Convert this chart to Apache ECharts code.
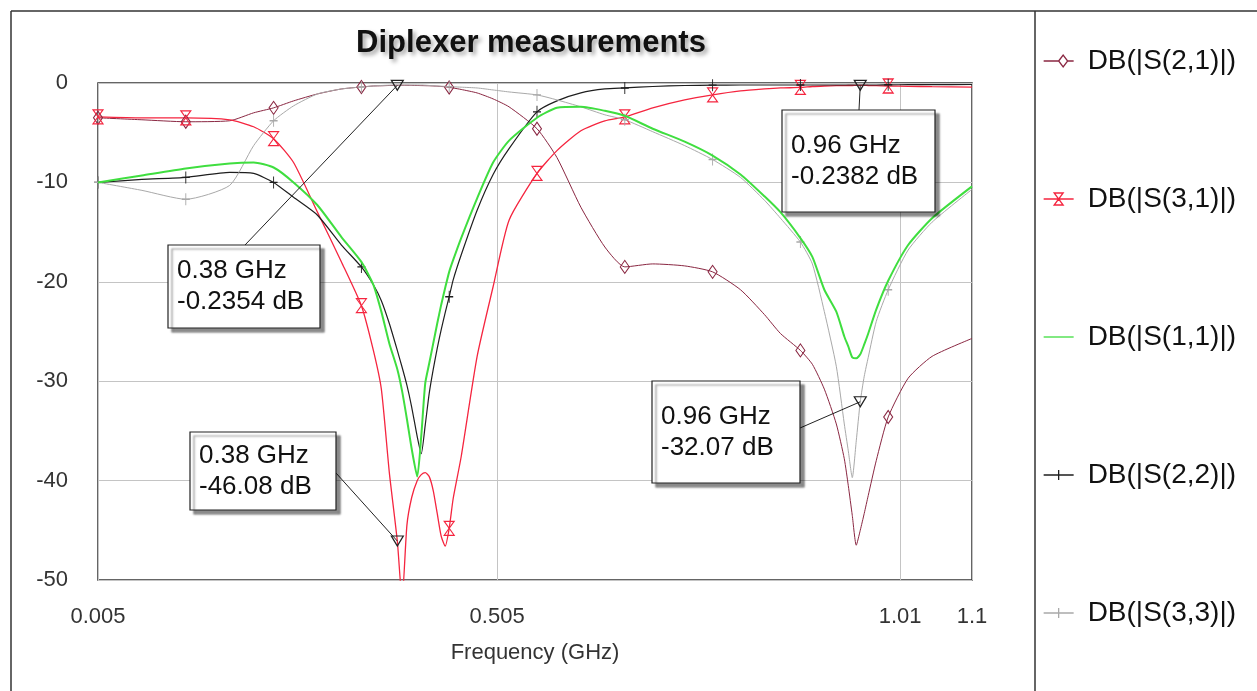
<!DOCTYPE html>
<html>
<head>
<meta charset="utf-8">
<title>Diplexer measurements</title>
<script src="https://cdn.jsdelivr.net/npm/echarts@6/dist/echarts.min.js"></script>
<style>
html,body{margin:0;padding:0;background:#fff;}
#main{width:1257px;height:691px;}
</style>
</head>
<body>
<div id="main"></div>
<script>
// frequency points (GHz) shared by all traces
var freq = [0.005, 0.06, 0.115, 0.17, 0.2, 0.225, 0.25, 0.28, 0.31, 0.335,
    0.35, 0.36, 0.37, 0.38, 0.386, 0.392, 0.398, 0.405, 0.41, 0.415,
    0.42, 0.425, 0.43, 0.435, 0.44, 0.445, 0.45, 0.46, 0.48, 0.5,
    0.52, 0.555, 0.58, 0.61, 0.64, 0.665, 0.7, 0.74, 0.775, 0.81,
    0.84, 0.86, 0.885, 0.9, 0.915, 0.93, 0.94, 0.945, 0.95, 0.955,
    0.96, 0.965, 0.97, 0.98, 0.995, 1.02, 1.05, 1.1];

// dB values
var s21 = [-3.5, -3.7, -3.9, -3.8, -3.0, -2.5, -1.8, -1.1, -0.6, -0.4,
    -0.3, -0.28, -0.25, -0.2354, -0.23, -0.23, -0.24, -0.25, -0.26, -0.27,
    -0.28, -0.3, -0.32, -0.35, -0.38, -0.45, -0.5, -0.65, -1.0, -1.6,
    -2.4, -4.6, -7.5, -12.5, -16.5, -18.5, -18.2, -18.4, -19.0, -20.8,
    -23.3, -25.2, -26.9, -28.3, -30.8, -34.3, -37.8, -40.5, -43.5, -46.5,
    -45.0, -43.3, -41.5, -38.0, -33.6, -29.7, -27.5, -25.7];
var s31 = [-3.4, -3.5, -3.5, -3.7, -4.4, -5.6, -8.0, -13.0, -18.0, -22.4,
    -26.9, -30.8, -39.2, -46.08, -52, -44.5, -41.7, -40.0, -39.4, -39.2,
    -39.6, -41.0, -43.3, -45.6, -46.6, -44.8, -41.8, -37.6, -27.5, -20.5,
    -13.8, -9.1, -6.8, -4.8, -3.8, -3.4, -2.5, -1.7, -1.2, -0.8,
    -0.6, -0.5, -0.45, -0.35, -0.3, -0.27, -0.26, -0.25, -0.25, -0.245,
    -0.2382, -0.24, -0.25, -0.27, -0.3, -0.33, -0.37, -0.42];
var s11 = [-10.0, -9.3, -8.6, -8.1, -8.0, -8.5, -10.0, -12.3, -15.5, -18.0,
    -20.3, -23.0, -26.2, -28.8, -31.0, -33.8, -36.8, -39.6, -35.5, -30.2,
    -28.2, -26.2, -24.2, -22.3, -20.6, -19.0, -17.8, -15.6, -11.6, -8.0,
    -5.8, -3.5, -2.5, -2.4, -2.8, -3.3, -4.6, -5.9, -7.3, -9.2,
    -11.4, -13.0, -15.6, -17.5, -20.8, -23.0, -25.5, -26.5, -27.6, -27.7,
    -27.3, -26.3, -25.2, -22.8, -19.9, -16.3, -13.6, -10.4];
var s22 = [-10.0, -9.7, -9.5, -9.0, -9.1, -10.0, -11.5, -13.3, -16.3, -18.5,
    -20.3, -21.9, -24.2, -26.9, -28.6, -30.4, -32.6, -35.6, -37.3, -34.4,
    -31.2, -28.8, -26.7, -24.8, -23.1, -21.5, -19.8, -17.3, -12.8, -9.2,
    -6.6, -2.9, -1.8, -1.0, -0.6, -0.5, -0.35, -0.25, -0.22, -0.2,
    -0.2, -0.2, -0.2, -0.2, -0.2, -0.2, -0.2, -0.2, -0.2, -0.2,
    -0.2, -0.2, -0.2, -0.2, -0.18, -0.17, -0.16, -0.15];
var s33 = [-10.0, -10.8, -11.7, -10.3, -6.3, -3.8, -2.3, -1.1, -0.6, -0.4,
    -0.3, -0.25, -0.22, -0.2, -0.2, -0.2, -0.2, -0.2, -0.2, -0.22,
    -0.25, -0.27, -0.3, -0.32, -0.34, -0.36, -0.38, -0.42, -0.5, -0.7,
    -0.9, -1.2, -1.7, -2.4, -3.2, -3.7, -4.9, -6.3, -7.7, -9.5,
    -11.8, -13.6, -16.0, -18.2, -23.0, -28.5, -34.3, -37.0, -39.7, -36.0,
    -32.07, -29.5, -27.6, -24.0, -20.8, -16.8, -14.0, -10.7];

// points where the trace symbols sit
var markerFreq = [0.005, 0.115, 0.225, 0.335, 0.445, 0.555, 0.665, 0.775, 0.885, 0.995];
var xTicks = [0.005, 0.505, 1.01, 1.1];
var names = ['DB(|S(2,1)|)', 'DB(|S(3,1)|)', 'DB(|S(1,1)|)', 'DB(|S(2,2)|)', 'DB(|S(3,3)|)'];

// marker readouts: trace index, frequency, value
var markSeries = [0, 1, 1, 4];
var markFreq = [0.38, 0.38, 0.96, 0.96];
var markDb = [-0.2354, -46.08, -0.2382, -32.07];

var colors = ['#8a2742', '#f5253f', '#3fde3f', '#1e1e1e', '#a9a9a9'];
var widths = [1, 1.3, 2, 1.2, 1];
var FONT = "'Liberation Sans', Arial, sans-serif";

var diamondSym = 'path://M5,0L10,7L5,14L0,7Z';
var hourSym = 'path://M0,0L10,0L5,7L10,14L0,14L5,7Z';
var plusSym = 'path://M0,6L10,6M5,0L5,12';
var triSym = 'path://M0,0L12,0L6,10Z';
var traceSym = [diamondSym, hourSym, null, plusSym, plusSym];
var traceSymSize = [[9, 13], [10, 14], 0, [8, 12], [8, 12]];

// legend icons (line + symbol), box 39x14
var legendIcons = [
    'path://M0,7L15,7M15,7L19.5,1L24,7L19.5,13ZM24,7L30,7M0,0M39,14',
    'path://M0,7L30,7M10.5,1L19.5,1L15,7L19.5,13L10.5,13L15,7ZM0,0M39,14',
    'path://M0,7L30,7M0,0M39,14',
    'path://M0,7L30,7M15,2L15,12M0,0M39,14',
    'path://M0,7L30,7M15,2L15,12M0,0M39,14'
];

// callout boxes, placed relative to the marker pixel
var boxLayout = [
    {dx: -229, dy: 160, w: 152, h: 83, ax: 77, ay: 0},
    {dx: -207, dy: -109, w: 146, h: 78, ax: 146, ay: 41},
    {dx: -78, dy: 25, w: 153, h: 102, ax: 77, ay: 0},
    {dx: -208, dy: -21, w: 148, h: 102, ax: 148, ay: 47}
];

var allVals = [s21, s31, s11, s22, s33];

function toPairs(vals){
    var d = [];
    for(var i = 0; i < freq.length; i++){
        d.push([freq[i], vals[i]]);
    }
    return d;
}
function isMarker(f){
    for(var i = 0; i < markerFreq.length; i++){
        if(Math.abs(markerFreq[i] - f) < 1e-6) return true;
    }
    return false;
}

var series = [];
for(var k = 0; k < names.length; k++){
    var s = {
        type: 'line',
        name: names[k],
        data: toPairs(allVals[k]),
        smooth: 0.2,
        z: k == 2 ? 4 : 2,
        lineStyle: {color: colors[k], width: widths[k]},
        itemStyle: {color: 'rgba(255,255,255,0)', borderColor: colors[k], borderWidth: 1.1},
        emphasis: {disabled: true},
        showAllSymbol: true
    };
    if(traceSym[k]){
        (function(sym){
            s.symbol = function(value){ return isMarker(value[0]) ? sym : 'none'; };
        })(traceSym[k]);
        s.symbolSize = traceSymSize[k];
    }else{
        s.showSymbol = false;
        s.symbol = 'none';
    }
    var mp = [];
    for(var m = 0; m < markSeries.length; m++){
        if(markSeries[m] == k){
            mp.push({coord: [markFreq[m], markDb[m]]});
        }
    }
    if(mp.length){
        s.markPoint = {
            symbol: triSym,
            symbolSize: [12, 10],
            itemStyle: {color: 'rgba(255,255,255,0)', borderColor: '#222', borderWidth: 1.2},
            label: {show: false},
            data: mp
        };
    }
    series.push(s);
}

var legendData = [];
for(var k = 0; k < names.length; k++){
    legendData.push({
        name: names[k],
        icon: legendIcons[k],
        itemStyle: {color: 'rgba(255,255,255,0)', borderColor: colors[k], borderWidth: 1.3}
    });
}

var option = {
    animation: false,
    title: {
        text: 'Diplexer measurements',
        left: 526,
        top: 23,
        textAlign: 'center',
        textStyle: {
            fontFamily: FONT, fontSize: 31, fontWeight: 'bold', color: '#111',
            textShadowColor: 'rgba(0,0,0,0.35)', textShadowBlur: 4,
            textShadowOffsetX: 3, textShadowOffsetY: 3
        }
    },
    legend: {
        orient: 'vertical',
        left: 1038,
        top: 42,
        itemWidth: 39,
        itemHeight: 14,
        itemGap: 110,
        selectedMode: false,
        textStyle: {fontFamily: FONT, fontSize: 28, color: '#111', lineHeight: 28},
        data: legendData
    },
    grid: {
        left: 98, right: 285, top: 83, bottom: 111,
        show: true, borderColor: '#333', borderWidth: 1.5, backgroundColor: '#fff'
    },
    xAxis: {
        type: 'value',
        min: 0.005,
        max: 1.1,
        name: 'Frequency (GHz)',
        nameLocation: 'middle',
        nameGap: 62,
        nameTextStyle: {fontFamily: FONT, fontSize: 22, color: '#333'},
        axisLine: {show: false},
        axisTick: {show: false, customValues: xTicks},
        axisLabel: {
            customValues: xTicks,
            margin: 26,
            fontFamily: FONT, fontSize: 22, color: '#333',
            formatter: function(v){ return String(v); }
        },
        splitLine: {show: true, lineStyle: {color: '#c4c4c4', width: 1}}
    },
    yAxis: {
        type: 'value',
        min: -50,
        max: 0,
        interval: 10,
        axisLine: {show: false},
        axisTick: {show: false},
        axisLabel: {margin: 30, fontFamily: FONT, fontSize: 22, color: '#333'},
        splitLine: {show: true, lineStyle: {color: '#c4c4c4', width: 1}}
    },
    series: series
};

var chart = echarts.init(document.getElementById('main'), null, {renderer: 'canvas'});
chart.setOption(option);

// frame lines + readout boxes
var gfx = [
    {type: 'line', shape: {x1: 11, y1: 11, x2: 1257, y2: 11}, style: {stroke: '#333', lineWidth: 1.5}, silent: true},
    {type: 'line', shape: {x1: 11, y1: 11, x2: 11, y2: 691}, style: {stroke: '#333', lineWidth: 1.5}, silent: true},
    {type: 'line', shape: {x1: 1035, y1: 11, x2: 1035, y2: 691}, style: {stroke: '#333', lineWidth: 1.5}, silent: true}
];
for(var m = 0; m < markFreq.length; m++){
    var p = chart.convertToPixel({gridIndex: 0}, [markFreq[m], markDb[m]]);
    var b = boxLayout[m];
    var bx = Math.round(p[0] + b.dx), by = Math.round(p[1] + b.dy);
    gfx.push({
        type: 'line', z: 10, silent: true,
        shape: {x1: bx + b.ax, y1: by + b.ay, x2: p[0], y2: p[1]},
        style: {stroke: '#222', lineWidth: 1}
    });
    gfx.push({
        type: 'rect', z: 11, silent: true,
        shape: {x: bx, y: by, width: b.w, height: b.h},
        style: {fill: '#fff', stroke: '#222', lineWidth: 1.2,
            shadowColor: 'rgba(0,0,0,0.45)', shadowBlur: 2, shadowOffsetX: 4, shadowOffsetY: 4}
    });
    gfx.push({
        type: 'text', z: 12, silent: true,
        style: {
            text: markFreq[m] + ' GHz\n' + markDb[m] + ' dB',
            x: bx + 9, y: by + b.h / 2,
            align: 'left', verticalAlign: 'middle',
            fontFamily: FONT, fontSize: 26, lineHeight: 31, fill: '#111'
        }
    });
}
chart.setOption({graphic: gfx});
</script>
</body>
</html>
